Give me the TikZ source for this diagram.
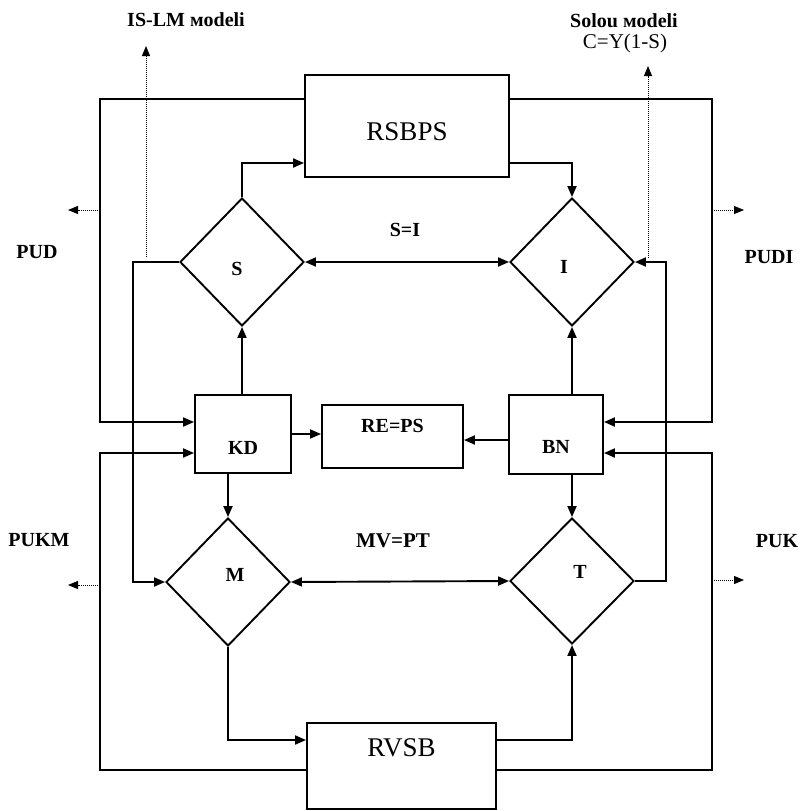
\documentclass[tikz,border=0pt]{standalone}
\usepackage{fontspec}
\setmainfont{Liberation Serif}
\usetikzlibrary{arrows.meta,shapes.geometric}
\tikzset{
  box/.style={draw, line width=1.9pt, inner sep=0pt},
  dia/.style={draw, diamond, line width=1.9pt, inner sep=0pt, minimum width=124pt, minimum height=128pt},
  ln/.style={line width=1.9pt},
  ar/.style={ln, -{Triangle[length=11pt,width=9pt]}},
  dar/.style={ln, {Triangle[length=11pt,width=9pt]}-{Triangle[length=11pt,width=9pt]}},
  dotar/.style={line width=1pt, densely dotted, -{Triangle[length=10pt,width=8pt]}},
  lab/.style={font=\fontsize{20}{24}\bfseries\selectfont},
  big/.style={font=\fontsize{27}{30}\selectfont},
}
\begin{document}
\begin{tikzpicture}[x=1pt,y=-1pt]
\useasboundingbox (0,0) rectangle (801,811);

% boxes
\node[box, minimum width=204pt, minimum height=102pt, label={[big,yshift=-6pt]center:RSBPS}] (RSBPS) at (407,126) {};
\node[box, minimum width=189pt, minimum height=86pt, label={[big,yshift=18pt]center:RVSB}] (RVSB) at (401.5,766) {};
\node[box, minimum width=96pt, minimum height=78pt, label={[lab,yshift=-14pt]center:KD}] (KD) at (243,434) {};
\node[box, minimum width=94pt, minimum height=79pt, label={[lab,yshift=-12pt]center:BN}] (BN) at (556,434.5) {};
\node[box, minimum width=141pt, minimum height=63pt, label={[lab,yshift=11pt]center:RE=PS}] (RE) at (392.5,436.5) {};

% diamonds
\node[dia, label={[lab,xshift=-5pt,yshift=-7pt]center:S}] (S) at (242,262) {};
\node[dia, label={[lab,xshift=-8pt,yshift=-5pt]center:I}] (I) at (572,262) {};
\node[dia, label={[lab,xshift=7pt,yshift=7pt]center:M}] (M) at (228,582) {};
\node[dia, minimum width=124pt, minimum height=126pt, label={[lab,xshift=8pt,yshift=9pt]center:T}] (T) at (572,581) {};

% free texts
\node[lab] (islmT) at (186,20) {IS-LM мodeli};
\node[lab] (solT) at (624,21) {Solou мodeli};
\node[font=\fontsize{21}{24}\selectfont] (cT) at (625,43) {C=Y(1-S)};
\node[lab] (SIT) at (405,230) {S=I};
\node[lab, font=\fontsize{21}{24}\bfseries\selectfont] (MVT) at (393,541) {MV=PT};
\node[lab] (pudT) at (37,252) {PUD};
\node[lab] (pudiT) at (769,257) {PUDI};
\node[lab] (pukmT) at (39,540) {PUKM};
\node[lab] (pukT) at (777,541) {PUK};

% outer loops
\draw[ar] (RSBPS.west |- 0,99) -- (100,99) -- (100,422) -- (KD.west |- 0,422);
\draw[ar] (RSBPS.east |- 0,99) -- (712,99) -- (712,422) -- (BN.east |- 0,422);
\draw[ar] (RVSB.west |- 0,770) -- (100,770) -- (100,453) -- (KD.west |- 0,453);
\draw[ar] (RVSB.east |- 0,770) -- (712,770) -- (712,453) -- (BN.east |- 0,453);

% inner connections
\draw[ar] (S.north) -- (S.north |- 0,163) -- (RSBPS.west |- 0,163);
\draw[ar] (RSBPS.east |- 0,163) -- (I.north |- 0,163) -- (I.north);
\draw[ar] (S.west) -- (S.west -| 133,0) -- (M.west -| 133,0) -- (M.west);
\draw[ar] (T.east) -- (T.east -| 666,0) -- (I.east -| 666,0) -- (I.east);
\draw[dar] (S.east) -- (I.west);
\draw[dar] (M.east) -- (T.west);
\draw[ar] (KD.north -| S.south) -- (S.south);
\draw[ar] (BN.north -| I.south) -- (I.south);
\draw[ar] (KD.south -| M.north) -- (M.north);
\draw[ar] (BN.south -| T.north) -- (T.north);
\draw[ar] (KD.east) -- (KD.east -| RE.west);
\draw[ar] (BN.west |- 0,440) -- (RE.east |- 0,440);
\draw[ar] (M.south) -- (M.south |- 0,740) -- (RVSB.west |- 0,740);
\draw[ar] (RVSB.east |- 0,740) -- (T.south |- 0,740) -- (T.south);

% dotted outputs
\coordinate (islm0) at (146,257);
\coordinate (islm1) at (146,46);
\coordinate (sol0) at (648,258);
\coordinate (sol1) at (648,66);
\coordinate (pud0) at (100,210);
\coordinate (pud1) at (68,210);
\coordinate (pudi0) at (712,210);
\coordinate (pudi1) at (744,210);
\coordinate (pukm0) at (100,585);
\coordinate (pukm1) at (68,585);
\coordinate (puk0) at (712,580);
\coordinate (puk1) at (744,580);
\draw[dotar] (islm0) -- (islm1);
\draw[dotar] (sol0) -- (sol1);
\draw[dotar] (pud0) -- (pud1);
\draw[dotar] (pudi0) -- (pudi1);
\draw[dotar] (pukm0) -- (pukm1);
\draw[dotar] (puk0) -- (puk1);
\end{tikzpicture}
\end{document}
